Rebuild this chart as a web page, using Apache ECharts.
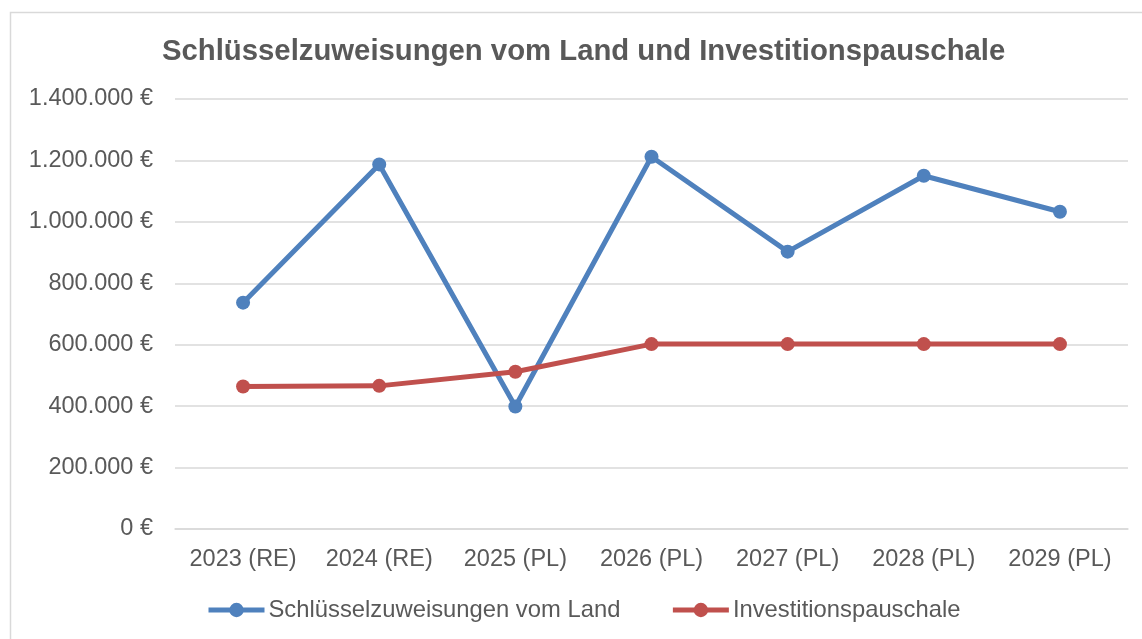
<!DOCTYPE html>
<html>
<head>
<meta charset="utf-8">
<script src="https://cdn.jsdelivr.net/npm/echarts@6/dist/echarts.min.js"></script>
<style>
html,body{margin:0;padding:0;background:#fff;}
#chart{width:1142px;height:639px;}
</style>
</head>
<body>
<div id="chart"></div>
<script>
var categories = ['2023 (RE)', '2024 (RE)', '2025 (PL)', '2026 (PL)', '2027 (PL)', '2028 (PL)', '2029 (PL)'];
var seriesNames = ['Schlüsselzuweisungen vom Land', 'Investitionspauschale'];
var schluesselzuweisungen = [737000, 1187000, 399000, 1212000, 903000, 1150000, 1033000];
var investitionspauschale = [464000, 466000, 512000, 602000, 602000, 602000, 602000];
var titleText = 'Schlüsselzuweisungen vom Land und Investitionspauschale';

function fmtEuro(v) {
  var s = String(Math.round(v));
  s = s.replace(/\B(?=(\d{3})+(?!\d))/g, '.');
  return s + ' €';
}

var chart = echarts.init(document.getElementById('chart'), null, {renderer: 'canvas'});
var font = 'Liberation Sans, Arial, sans-serif';
chart.setOption({
  backgroundColor: '#fff',
  animation: false,
  graphic: [{
    type: 'rect',
    shape: {x: 10.5, y: 12.5, width: 1160, height: 660},
    style: {fill: 'none', stroke: '#d9d9d9', lineWidth: 1.5},
    silent: true
  }],
  title: {
    text: titleText,
    left: 162,
    top: 37,
    padding: 0,
    textStyle: {fontFamily: font, fontSize: 29.3, fontWeight: 'bold', color: '#595959'}
  },
  legend: {
    bottom: 12,
    left: 201,
    itemWidth: 56,
    itemHeight: 18,
    itemGap: 50,
    lineStyle: {width: 5},
    textStyle: {fontFamily: font, fontSize: 23.8, color: '#595959', padding: [0, 0, 0, -1]},
    data: seriesNames
  },
  grid: {left: 175, right: 14, top: 99, bottom: 110, containLabel: false},
  xAxis: {
    type: 'category',
    data: categories,
    boundaryGap: true,
    axisLine: {show: true, lineStyle: {color: '#d9d9d9', width: 1.5}},
    axisTick: {show: false},
    axisLabel: {fontFamily: font, fontSize: 23.5, color: '#595959', margin: 19, interval: 0}
  },
  yAxis: {
    type: 'value',
    min: 0,
    max: 1400000,
    interval: 200000,
    axisLine: {show: false},
    axisTick: {show: false},
    splitLine: {lineStyle: {color: '#d9d9d9', width: 1.5}},
    axisLabel: {fontFamily: font, fontSize: 23.5, color: '#595959', margin: 22, formatter: fmtEuro}
  },
  series: [{
    name: seriesNames[0],
    type: 'line',
    data: schluesselzuweisungen,
    symbol: 'circle',
    symbolSize: 14,
    lineStyle: {color: '#4F81BD', width: 5},
    itemStyle: {color: '#4F81BD'}
  }, {
    name: seriesNames[1],
    type: 'line',
    data: investitionspauschale,
    symbol: 'circle',
    symbolSize: 14,
    lineStyle: {color: '#C0504D', width: 5},
    itemStyle: {color: '#C0504D'}
  }]
});
</script>
</body>
</html>
